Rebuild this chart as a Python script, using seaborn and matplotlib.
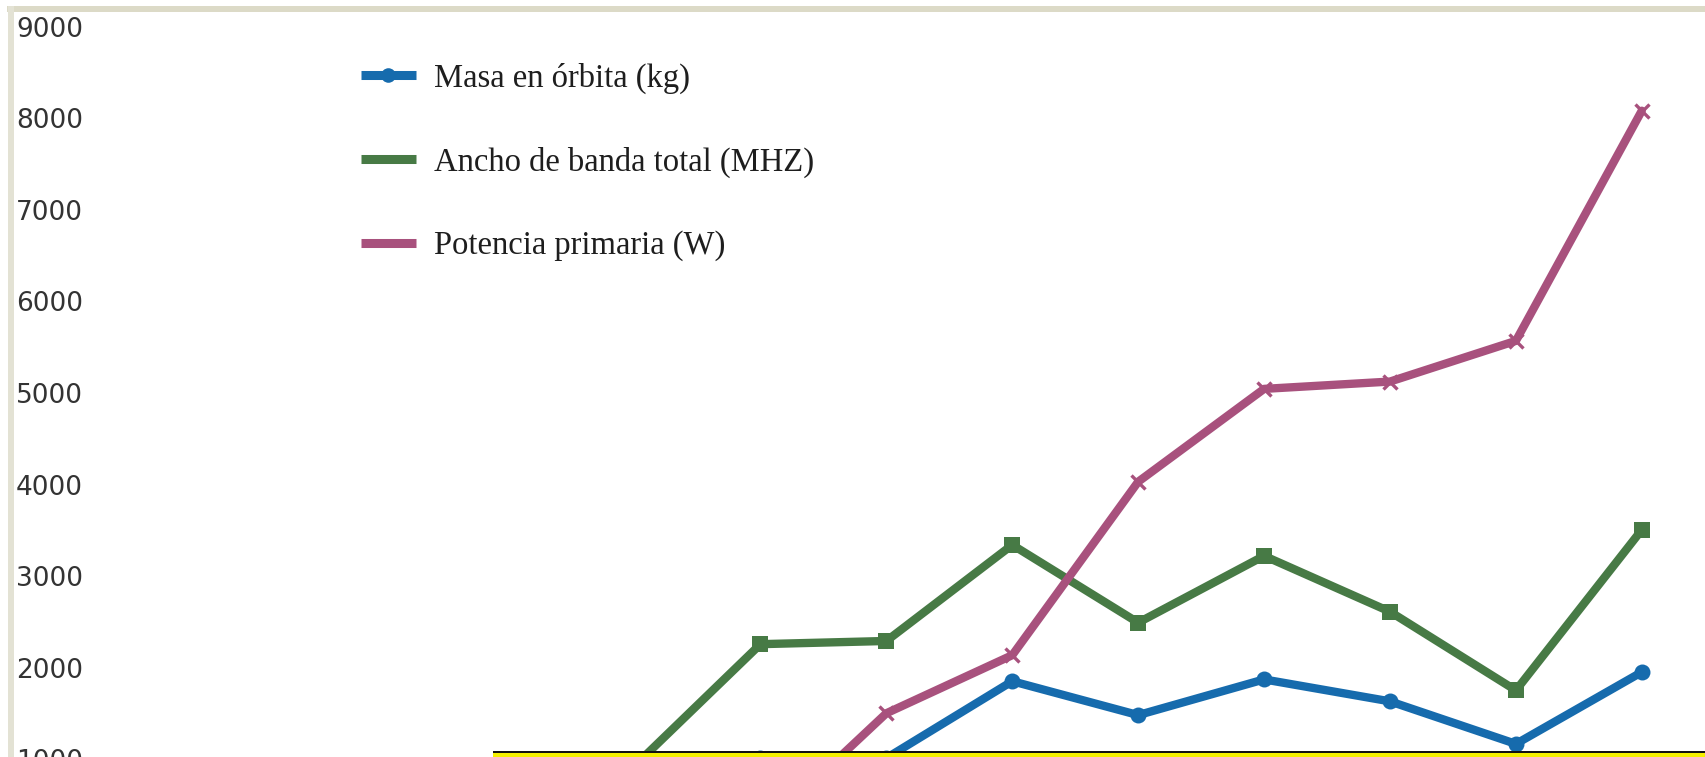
import numpy as np
import pandas as pd
import matplotlib
matplotlib.use("Agg")
import matplotlib.pyplot as plt
from matplotlib.patches import Rectangle
from matplotlib.lines import Line2D
import seaborn as sns

# Satellite generations (x axis) and the three tracked quantities
satellites = ["I", "II", "III", "IV", "IV-A", "V", "V-A", "VI",
              "VII", "VII-A", "VIII", "VIII-A", "IX"]
masa_kg = [40, 90, 150, 700, 790, 1010, 1010, 1850, 1480, 1870, 1630, 1165, 1950]
ancho_mhz = [50, 130, 300, 500, 925, 2255, 2290, 3340, 2490, 3220, 2610, 1750, 3505]
potencia_w = [40, 75, 130, 180, 200, 210, 1500, 2135, 4030, 5045, 5125, 5570, 8085]
y_ticks = [1000, 2000, 3000, 4000, 5000, 6000, 7000, 8000, 9000]

labels = ["Masa en órbita (kg)", "Ancho de banda total (MHZ)", "Potencia primaria (W)"]
colors = ["#166BAD", "#477A45", "#A8517D"]

df = pd.DataFrame({
    "pos": np.arange(len(satellites)),
    "satelite": satellites,
    "masa": masa_kg,
    "ancho": ancho_mhz,
    "potencia": potencia_w,
})

sns.set_theme(style="white")
plt.rcParams["font.family"] = ["DejaVu Sans"]

W, H = 1705, 757
fig = plt.figure(figsize=(W / 100, H / 100), dpi=100, facecolor="white")

# plotting area runs past the lower edge of the canvas
ax_left, ax_right = 14, W
ax_top, ax_bottom = 14, 800
ax = fig.add_axes([ax_left / W, (H - ax_bottom) / H,
                   (ax_right - ax_left) / W, (ax_bottom - ax_top) / H])
ax.set_facecolor("white")

lw = 6.0
sns.lineplot(data=df, x="pos", y="masa", ax=ax, color=colors[0], lw=lw,
             marker="o", markersize=11.5, markeredgewidth=0, label=labels[0])
sns.lineplot(data=df, x="pos", y="ancho", ax=ax, color=colors[1], lw=lw,
             marker="s", markersize=11, markeredgewidth=0, label=labels[1])
sns.lineplot(data=df, x="pos", y="potencia", ax=ax, color=colors[2], lw=lw,
             marker="x", markersize=10, markeredgewidth=2.4,
             markeredgecolor=colors[2], label=labels[2])

ax.set_xlim(-0.929, 12.502)
ax.set_ylim(552, 9142)
ax.set_xticks([])
ax.set_yticks(y_ticks)
ax.set_yticklabels([str(v) for v in y_ticks], fontsize=19, color="#333333")
for t in ax.get_yticklabels():
    t.set_horizontalalignment("left")
ax.tick_params(axis="y", length=0, pad=-1.5)
ax.set_xlabel("")
ax.set_ylabel("")
for s in ax.spines.values():
    s.set_visible(False)

# legend with short thick keys
handles = [
    Line2D([], [], color=colors[0], lw=6.5, marker="o", markersize=10.5,
           markeredgewidth=0, solid_capstyle="butt"),
    Line2D([], [], color=colors[1], lw=6.5, solid_capstyle="butt"),
    Line2D([], [], color=colors[2], lw=6.5, solid_capstyle="butt"),
]
leg = ax.legend(handles, labels, loc="upper left",
                bbox_to_anchor=(345 / W, 1 - 46 / H), bbox_transform=fig.transFigure,
                frameon=False, handlelength=1.66, handletextpad=0.58,
                labelspacing=1.62, borderpad=0,
                prop={"family": "Liberation Serif", "size": 23.5})
for txt in leg.get_texts():
    txt.set_color("#1e1e1e")

# frame strips along the top and left edges
fig.add_artist(Rectangle((7 / W, (H - 12) / H), (W - 7) / W, 6 / H,
                         transform=fig.transFigure, facecolor="#DCDAC7",
                         edgecolor="none", zorder=10))
fig.add_artist(Rectangle((8 / W, 0), 6 / W, (H - 6) / H,
                         transform=fig.transFigure, facecolor="#E3E2D4",
                         edgecolor="none", zorder=10))

# yellow caption bar at the bottom edge
fig.add_artist(Rectangle((493 / W, 0), (W - 493) / W, 4 / H,
                         transform=fig.transFigure, facecolor="#F5F000",
                         edgecolor="none", zorder=10))
fig.add_artist(Rectangle((493 / W, 4 / H), (W - 493) / W, 1.6 / H,
                         transform=fig.transFigure, facecolor="#111111",
                         edgecolor="none", zorder=10))

fig.savefig("out.png", dpi=100, facecolor="white")
